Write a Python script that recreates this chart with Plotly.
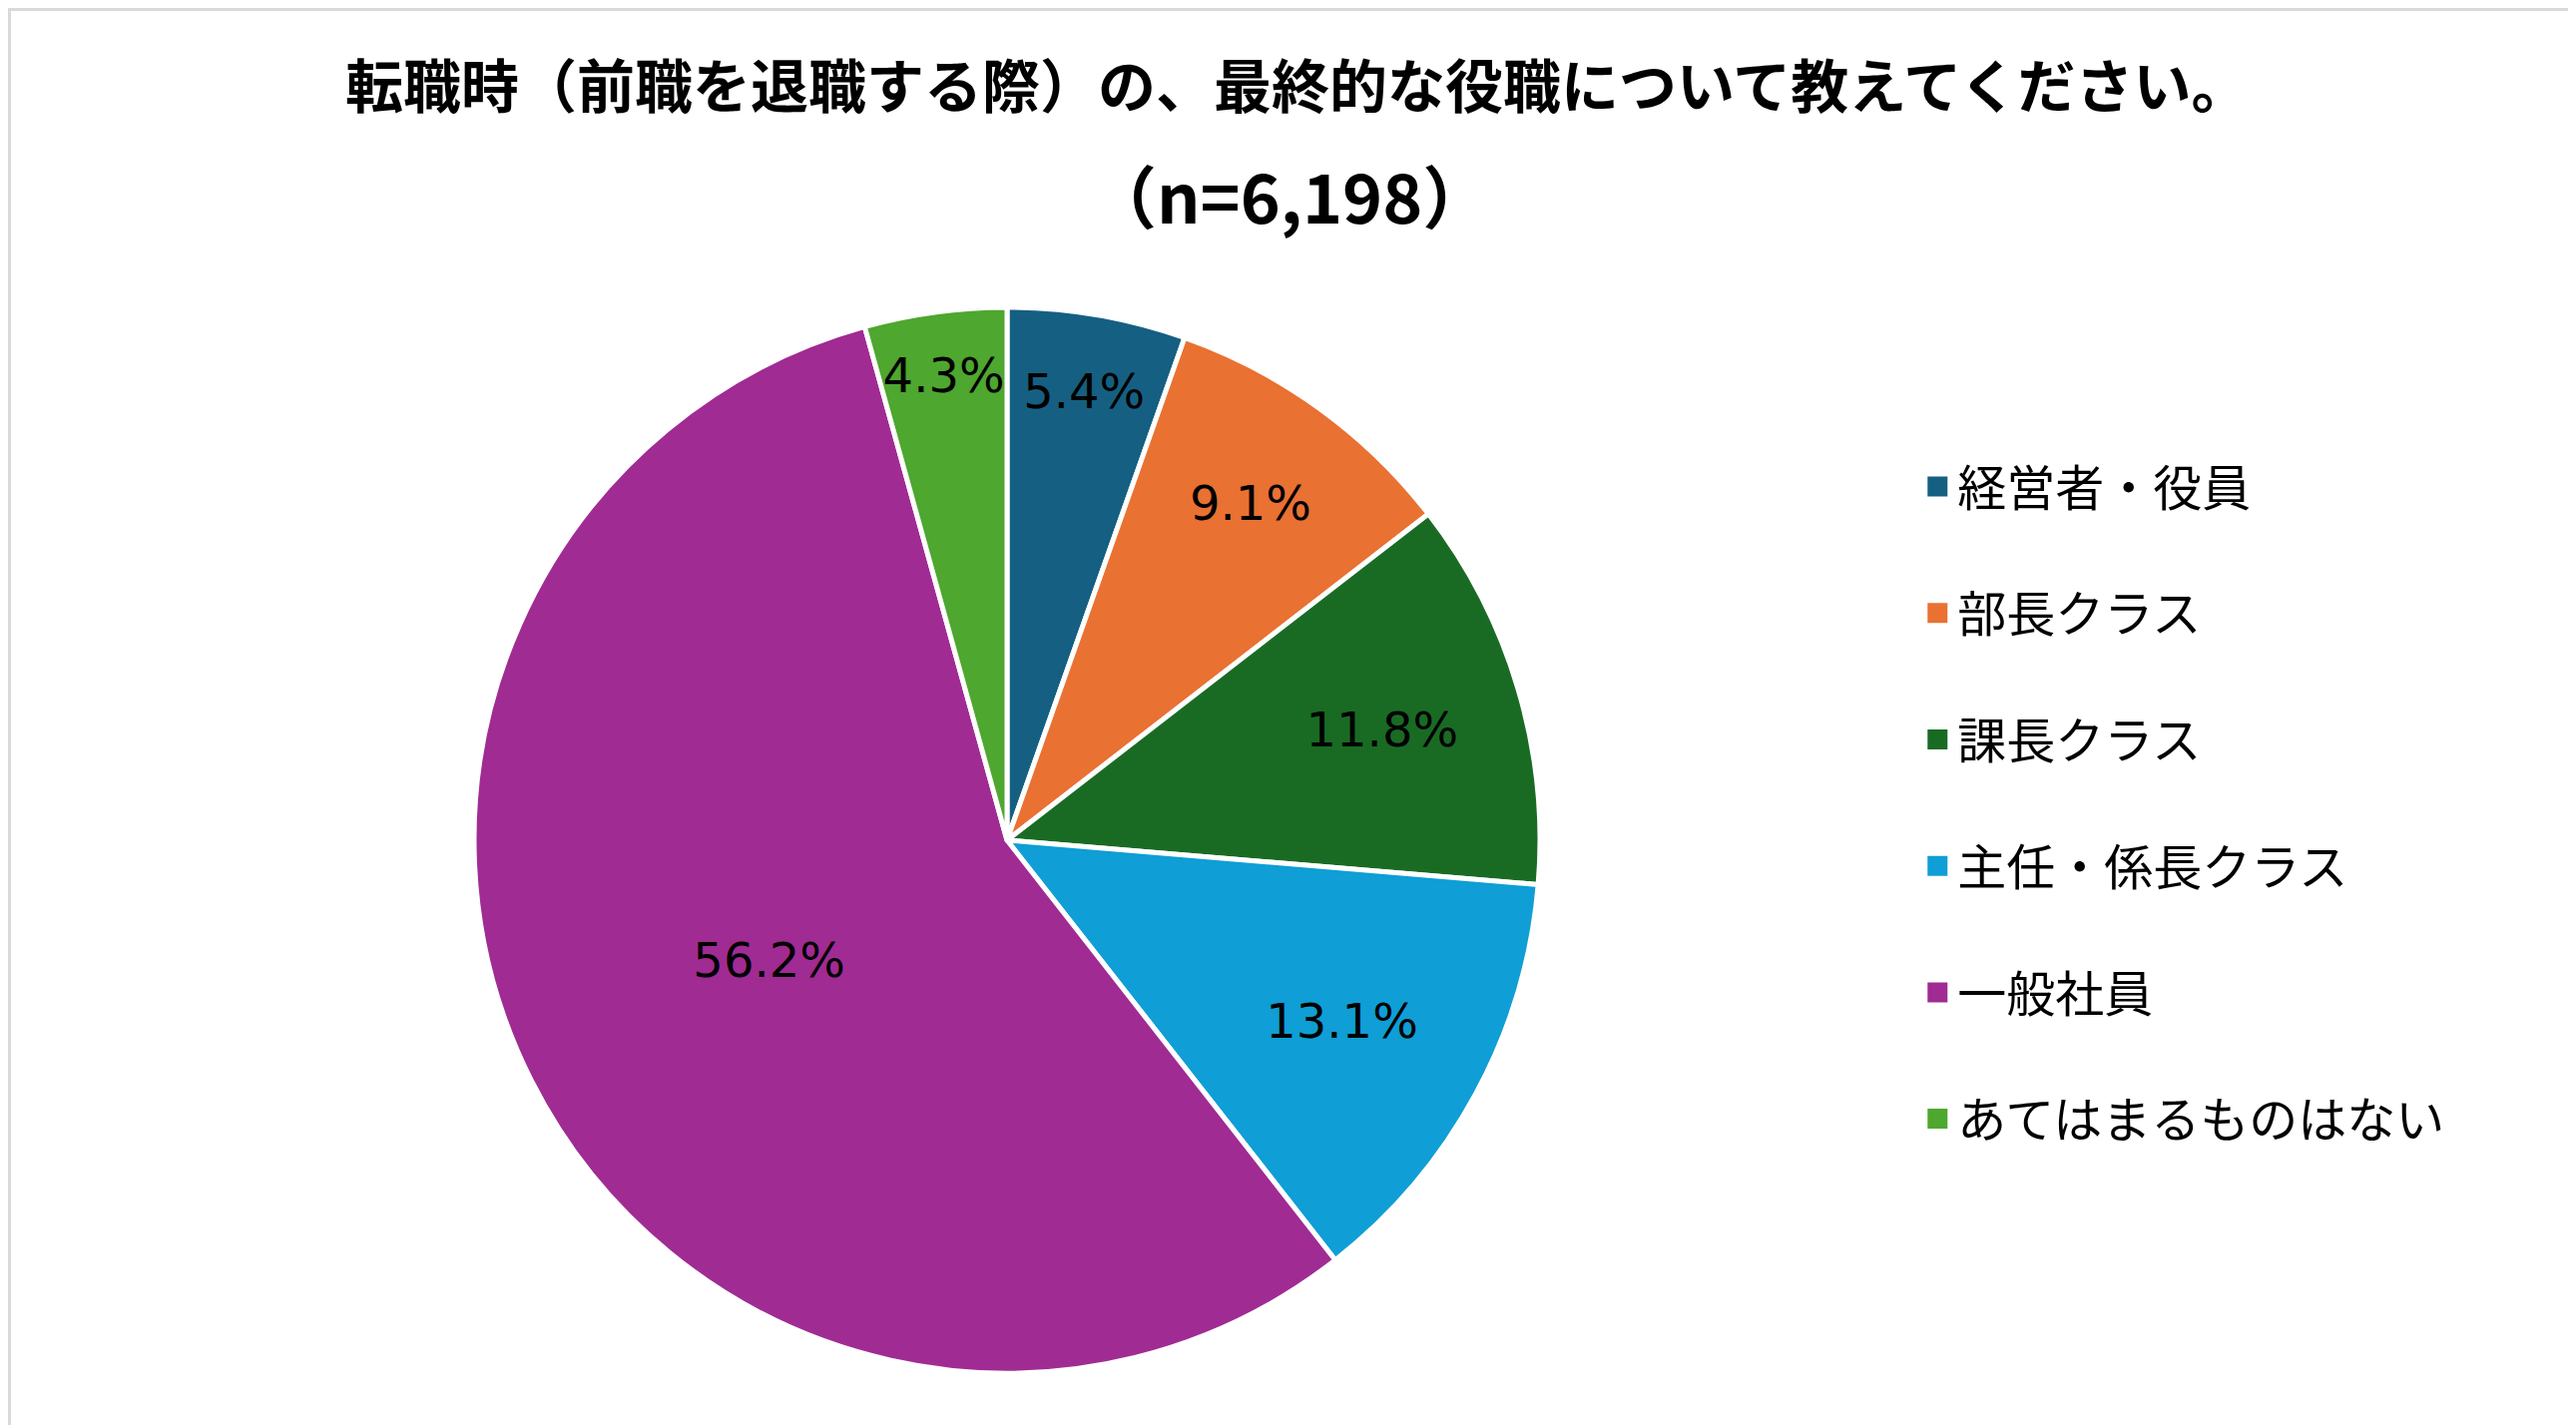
import plotly.graph_objects as go

# survey answers (share of respondents, %)
labels = ["経営者・役員", "部長クラス", "課長クラス", "主任・係長クラス", "一般社員", "あてはまるものはない"]
shares = [5.4, 9.1, 11.8, 13.1, 56.2, 4.3]
colors = ["#156082", "#E97132", "#196B24", "#0F9ED5", "#A02B93", "#4EA72E"]

title_main = "転職時（前職を退職する際）の、最終的な役職について教えてください。"
title_sub = "（n=6,198）"

W, H = 2581, 1428

fig = go.Figure()

fig.add_trace(
    go.Pie(
        labels=labels,
        values=shares,
        sort=False,
        direction="clockwise",
        rotation=0,
        marker=dict(colors=colors, line=dict(color="white", width=5)),
        texttemplate="%{value:.1f}%",
        textposition="inside",
        insidetextorientation="horizontal",
        textfont=dict(family="DejaVu Sans", size=48, color="black"),
        hoverinfo="label+value",
        showlegend=False,
        domain=dict(x=[467 / W, 1535 / W], y=[1 - 1368 / H, 1 - 300 / H]),
    )
)

# legend entries: one group per answer so the spacing can be opened up
for name, col in zip(labels, colors):
    fig.add_trace(
        go.Scatter(
            x=[None],
            y=[None],
            mode="markers",
            name=name,
            legendgroup=name,
            marker=dict(symbol="square", size=16, color=col, line=dict(color=col, width=4)),
        )
    )

fig.update_layout(
    width=W,
    height=H,
    margin=dict(l=0, r=0, t=0, b=0),
    paper_bgcolor="white",
    plot_bgcolor="white",
    xaxis=dict(visible=False),
    yaxis=dict(visible=False),
    uniformtext=dict(minsize=48, mode="show"),
    legend=dict(
        x=0.7413,
        y=0.691,
        xanchor="left",
        yanchor="top",
        font=dict(family="Noto Sans CJK JP", size=49, color="black"),
        tracegroupgap=60,
        bgcolor="rgba(0,0,0,0)",
    ),
    annotations=[
        dict(
            text=f"<b>{title_main}</b>",
            x=0.5006,
            y=1 - 75 / H,
            xref="paper",
            yref="paper",
            xanchor="center",
            yanchor="middle",
            showarrow=False,
            font=dict(family="Noto Sans CJK JP", size=58, color="black"),
        ),
        dict(
            text=f"<b>{title_sub}</b>",
            x=0.4975,
            y=1 - 187 / H,
            xref="paper",
            yref="paper",
            xanchor="center",
            yanchor="middle",
            showarrow=False,
            font=dict(family="Noto Sans CJK JP", size=68, color="black"),
        ),
    ],
    shapes=[
        dict(
            type="rect",
            xref="paper",
            yref="paper",
            x0=0,
            y0=0,
            x1=1,
            y1=1,
            line=dict(color="#D9D9D9", width=6),
        )
    ],
)

fig.write_html("out.html")
